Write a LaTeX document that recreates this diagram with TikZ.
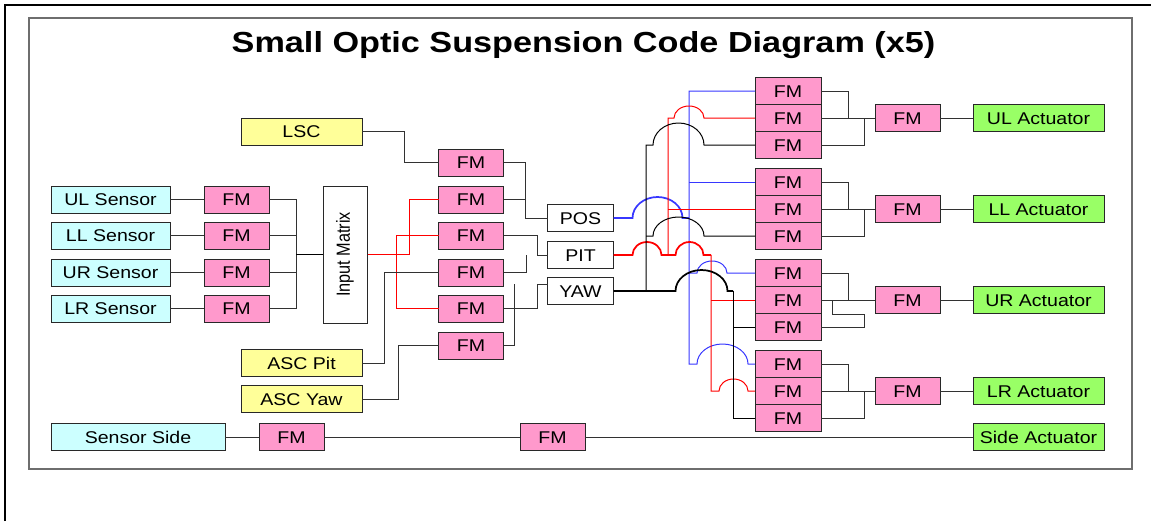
\documentclass[tikz,border=0pt]{standalone}
\usepackage{graphicx}
\usepackage{fontspec}
\setmainfont{Liberation Sans}
\definecolor{fmpink}{RGB}{255,153,204}
\definecolor{ylw}{RGB}{255,255,153}
\definecolor{cyn}{RGB}{204,255,255}
\definecolor{grn}{RGB}{153,255,102}
\definecolor{edge}{RGB}{40,40,40}
\definecolor{wirec}{RGB}{50,50,50}
\definecolor{bluew}{RGB}{55,55,255}
\definecolor{redw}{RGB}{255,0,0}
\definecolor{framec}{RGB}{110,110,110}
\newcommand\sx[1]{\scalebox{1.15}[1]{#1}}
\newcommand\jmp[2]{arc[start angle=180,end angle=0,x radius=#1*0.75pt,y radius=#2*0.75pt]}
\tikzset{
  box/.style={draw=edge, line width=0.75pt, inner sep=0pt, outer sep=0pt,
    font=\fontsize{12.75}{14}\selectfont, text height=9.2pt, text depth=0pt,
    minimum height=20.25pt},
  fmbox/.style={box, fill=fmpink, minimum width=48.75pt},
  sensbox/.style={box, fill=cyn, minimum width=89.25pt},
  ylwbox/.style={box, fill=ylw, minimum width=90.75pt},
  wbox/.style={box, fill=white, minimum width=49.5pt},
  actbox/.style={box, fill=grn, minimum width=98.25pt},
  wire/.style={draw=wirec, line width=0.75pt},
  bw/.style={draw=bluew, line width=0.75pt},
  rw/.style={draw=redw, line width=0.75pt},
  kw/.style={draw=black, line width=0.75pt},
  src/.style={line width=1.3pt},
}
\begin{document}
\begin{tikzpicture}[x=0.75pt,y=-0.75pt]
\useasboundingbox (0,0) rectangle (1151,521);
% frames
\draw[black, line width=1.5pt] (5,521) -- (5,5) -- (1151,5);
\draw[framec, line width=0.9pt] (29,18) rectangle (1132,469);
\node[anchor=base, font=\fontsize{21.75}{26}\selectfont\bfseries] (title) at (583.5,52) {\scalebox{1.18}[1]{Small Optic Suspension Code Diagram (x5)}};

% left inputs
\node[ylwbox] (lsc) at (301.5,131.5) {\sx{LSC}};
\node[sensbox] (s1) at (110.5,199.5) {\sx{UL Sensor}};
\node[sensbox] (s2) at (110.5,235.5) {\sx{LL Sensor}};
\node[sensbox] (s3) at (110.5,272.5) {\sx{UR Sensor}};
\node[sensbox] (s4) at (110.5,308.5) {\sx{LR Sensor}};
\node[fmbox] (sf1) at (236.5,199.5) {\sx{FM}};
\node[fmbox] (sf2) at (236.5,235.5) {\sx{FM}};
\node[fmbox] (sf3) at (236.5,272.5) {\sx{FM}};
\node[fmbox] (sf4) at (236.5,308.5) {\sx{FM}};
\node[draw=edge, line width=0.75pt, fill=white, inner sep=0pt, minimum width=33pt, minimum height=102.75pt,
  font=\fontsize{12.2}{14}\selectfont] (im) at (345,254.5) {\rotatebox{90}{\scalebox{1}[1.17]{Input Matrix}}};
\node[ylwbox] (ascp) at (301.5,363) {\sx{ASC Pit}};
\node[ylwbox] (ascy) at (301.5,399) {\sx{ASC Yaw}};

% middle FM column
\node[fmbox] (m1) at (471,162.5) {\sx{FM}};
\node[fmbox] (m2) at (471,199.5) {\sx{FM}};
\node[fmbox] (m3) at (471,235.5) {\sx{FM}};
\node[fmbox] (m4) at (471,272.5) {\sx{FM}};
\node[fmbox] (m5) at (471,308.5) {\sx{FM}};
\node[fmbox] (m6) at (471,345.5) {\sx{FM}};

\node[wbox] (pos) at (580.5,218) {\sx{POS}};
\node[wbox] (pit) at (580.5,255) {\sx{PIT}};
\node[wbox] (yaw) at (580.5,291) {\sx{YAW}};

% right stacks
\foreach \g/\y in {1/91,2/182,3/273,4/364}{
  \node[fmbox, minimum width=49.5pt] (r\g a) at (788,\y) {\sx{FM}};
  \node[fmbox, minimum width=49.5pt] (r\g b) at (788,\y+27) {\sx{FM}};
  \node[fmbox, minimum width=49.5pt] (r\g c) at (788,\y+54) {\sx{FM}};
  \node[fmbox] (rf\g) at (907.5,\y+27) {\sx{FM}};
}
\node[actbox] (a1) at (1038.5,118) {\sx{UL Actuator}};
\node[actbox] (a2) at (1038.5,209) {\sx{LL Actuator}};
\node[actbox] (a3) at (1038.5,300) {\sx{UR Actuator}};
\node[actbox] (a4) at (1038.5,391) {\sx{LR Actuator}};

% side row
\node[sensbox, minimum width=130.5pt] (ss) at (138,437) {\sx{Sensor Side}};
\node[fmbox] (sfa) at (291.5,437) {\sx{FM}};
\node[fmbox] (sfb) at (552.5,437) {\sx{FM}};
\node[actbox] (sact) at (1038.5,437) {\sx{Side Actuator}};

% bus x positions
\coordinate (xS) at (296,0);
\coordinate (xM1) at (396,0);
\coordinate (xM2) at (409,0);
\coordinate (xA1) at (384,0);
\coordinate (xA2) at (398,0);
\coordinate (xL) at (404,0);
\coordinate (xP) at (525,0);
\coordinate (xQ) at (537,0);
\coordinate (xQ2) at (526,0);
\coordinate (xY) at (514,0);
\coordinate (xK1) at (646,0);
\coordinate (xR1) at (668,0);
\coordinate (xB) at (689,0);
\coordinate (xR2) at (711,0);
\coordinate (xK2) at (733,0);
\coordinate (xG1) at (848,0);
\coordinate (xG2) at (864,0);
\coordinate (xG3) at (832,0);
\coordinate (yin) at ([yshift=5.25pt]yaw.west);

% sensors
\foreach \i in {1,...,4}{ \draw[wire] (s\i.east) -- (sf\i.west); }
\draw[wire] (sf1.east) -- (xS |- sf1.east) -- (xS |- sf4.east) -- (sf4.east);
\draw[wire] (sf2.east) -- (xS |- sf2.east);
\draw[wire] (sf3.east) -- (xS |- sf3.east);
\draw[kw, src] (xS |- im.west) -- (im.west);
% input matrix outputs
\draw[rw, src] (im.east) -- (xM1 |- im.east);
\draw[rw] (xM1 |- im.east) -- (xM2 |- im.east) -- (xM2 |- m2.west) -- (m2.west);
\draw[rw] (m3.west) -- (xM1 |- m3.west) -- (xM1 |- m5.west) -- (m5.west);
% other inputs
\draw[wire] (lsc.east) -- (xL |- lsc.east) -- (xL |- m1.west) -- (m1.west);
\draw[wire] (ascp.east) -- (xA1 |- ascp.east) -- (xA1 |- m4.west) -- (m4.west);
\draw[wire] (ascy.east) -- (xA2 |- ascy.east) -- (xA2 |- m6.west) -- (m6.west);
% to POS / PIT / YAW
\draw[wire] (m1.east) -- (xP |- m1.east) -- (xP |- pos.west) -- (pos.west);
\draw[wire] (m2.east) -- (xP |- m2.east);
\draw[wire] (m3.east) -- (xQ |- m3.east) -- (xQ |- pit.west) -- (pit.west);
\draw[wire] (m4.east) -- (xQ2 |- m4.east) -- (xQ2 |- pit.west);
\draw[wire] (m5.east) -- (xQ |- m5.east) -- (xQ |- yin) -- (yin);
\draw[wire] (m6.east) -- (xY |- m6.east) -- (xY |- yin);

% POS (blue)
\draw[bw, src] (pos.east) -- ++(19,0) \jmp{25}{21} -- (xB |- pos.east);
\draw[bw] (r1a.west) -- (xB |- r1a.west) -- (xB |- r4a.west) -- ++(8,0) \jmp{25.5}{20} -- (r4a.west);
\draw[bw] (xB |- r2a.west) -- (r2a.west);
\draw[bw] (xB |- r3a.west) -- ++(8,0) \jmp{15}{12} -- (r3a.west);
% PIT (red)
\draw[rw, src] (pit.east) -- ++(19,0) \jmp{14.5}{13} -- ++(14,0) \jmp{14}{13} -- (xR2 |- pit.east);
\draw[rw] (xR1 |- pit.east) -- (xR1 |- r1b.west) -- ++(6,0) \jmp{15}{12} -- (r1b.west);
\draw[rw] (xR1 |- r2b.west) -- (r2b.west);
\draw[rw] (xR2 |- pit.east) -- (xR2 |- r4b.west) -- ++(8,0) \jmp{14.5}{12} -- (r4b.west);
\draw[rw] (xR2 |- r3b.west) -- (r3b.west);
% YAW (black)
\draw[kw, src] (yaw.east) -- ++(62,0) \jmp{26}{21} -- (xK2 |- yaw.east);
\draw[kw] (xK1 |- yaw.east) -- (xK1 |- r1c.west) -- ++(7,0) \jmp{25.5}{22} -- (r1c.west);
\draw[kw] (xK1 |- r2c.west) -- ++(7,0) \jmp{25.5}{19} -- (r2c.west);
\draw[kw] (xK2 |- yaw.east) -- (xK2 |- r4c.west) -- (r4c.west);
\draw[kw] (xK2 |- r3c.west) -- (r3c.west);

% right combining
\foreach \g in {1,...,4}{
  \draw[wire] (r\g a.east) -- (xG1 |- r\g a.east) -- (xG1 |- r\g b.east);
  \draw[wire] (r\g b.east) -- (rf\g.west);
  \draw[wire] (rf\g.east) -- (a\g.west);
}
\draw[wire] (r1c.east) -- (xG2 |- r1c.east) -- (xG2 |- r1b.east);
\draw[wire] (r2c.east) -- (xG2 |- r2c.east) -- (xG2 |- r2b.east);
\draw[wire] (r4c.east) -- (xG2 |- r4c.east) -- (xG2 |- r4b.east);
\draw[wire] (r3c.east) -- (xG2 |- r3c.east) -- ++(0,-13) -| (xG3 |- r3b.east);

% side row
\draw[wire] (ss.east) -- (sfa.west);
\draw[wire] (sfa.east) -- (sfb.west);
\draw[wire] (sfb.east) -- (sact.west);
\end{tikzpicture}
\end{document}
